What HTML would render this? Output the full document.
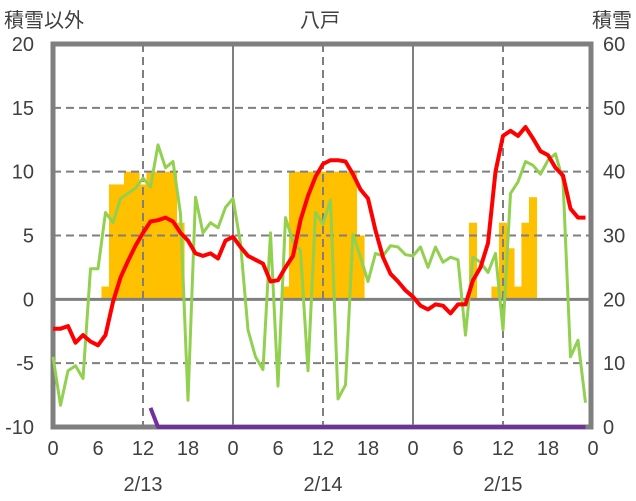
<!DOCTYPE html>
<html><head><meta charset="utf-8"><style>
body{margin:0;background:#fff;}
svg{display:block;font-family:"Liberation Sans","Noto Sans CJK JP",sans-serif;}
</style></head><body>
<svg id="c" width="636" height="501"></svg>
<script>
const hoursPerDay = 24;
const dayLabels = ["2/13","2/14","2/15"];
const hourTicks = [0,6,12,18];
const leftTicks = [20,15,10,5,0,-5,-10];
const rightTicks = [60,50,40,30,20,10,0];
const temperature = [-2.3,-2.3,-2.1,-3.4,-2.8,-3.3,-3.6,-2.8,-0.2,1.7,3,4.2,5.2,6.1,6.2,6.4,6.1,5.2,4.6,3.6,3.4,3.6,3.2,4.6,
 4.9,4.1,3.4,3.1,2.8,1.4,1.5,2.5,3.4,6.2,8.1,9.6,10.6,10.9,10.9,10.8,9.8,8.6,7.9,5.4,3.3,2.0,1.4,0.7,
 0.2,-0.5,-0.8,-0.4,-0.5,-1.1,-0.4,-0.4,1.5,2.5,4.4,10.0,12.8,13.2,12.8,13.5,12.6,11.6,11.3,10.3,9.7,7.1,6.4,6.4];
const windSpeed = [-4.5,-8.3,-5.6,-5.2,-6.2,2.4,2.4,6.8,6.0,7.9,8.3,8.7,9.5,8.8,12.1,10.3,10.8,6.7,-7.9,8.0,5.2,6.0,5.6,7.2,
 7.9,4.4,-2.4,-4.5,-5.5,5.2,-6.8,6.4,4.5,3.8,-5.6,6.8,5.9,7.8,-7.8,-6.7,5.1,3.3,1.4,3.6,3.4,4.2,4.1,3.5,
 3.4,4.1,2.5,4.1,2.9,3.3,3.1,-2.8,3.3,2.9,2.1,3.6,-2.4,8.3,9.2,10.8,10.5,9.8,10.9,11.4,9.3,-4.5,-3.2,-8.1];
const snowDepthBars = [0,0,0,0,0,0,0,1,9,9,10,10,9,10,10,10,10,6,0,0,0,0,0,0,
 0,0,0,0,0,0,0,1,10,10,10,10,10,10,10,10,10,5,0,0,0,0,0,0,
 0,0,0,0,0,0,0,0,6,0,0,1,6,4,1,6,8,0,0,0,0,0,0,0];
const snowfall = [null,null,null,null,null,null,null,null,null,null,null,null,null,-8.5];
for(let i=14;i<72;i++) snowfall.push(-10);

const X0=53,X1=593,Y0=44,Y1=427;
const xs=h=>X0+h*(X1-X0)/72;
const ys=v=>Y1-(v+10)*(Y1-Y0)/30;
const svg=document.getElementById('c');
const NS='http://www.w3.org/2000/svg';
function mk(t,a,p){const e=document.createElementNS(NS,t);for(const k in a)e.setAttribute(k,a[k]);(p||svg).appendChild(e);return e;}

// bars
snowDepthBars.forEach((v,i)=>{ if(v<=0)return;
 const r=mk('rect',{x:xs(i-0.5)-0.3,y:ys(v),width:xs(1)-xs(0)+0.6,height:ys(0)-ys(v),fill:'#ffc000'});
 
 
});
// grid
[15,10,5,-5].forEach(v=>{const l=mk('line',{x1:X0,x2:X1,y1:ys(v),y2:ys(v),stroke:'#7f7f7f','stroke-width':2,'stroke-dasharray':'8,5'});
 
 });
const z=mk('line',{x1:X0,x2:X1,y1:ys(0),y2:ys(0),stroke:'#7f7f7f','stroke-width':3});


for(let d=0;d<3;d++){
 const l=mk('line',{x1:xs(d*24+12),x2:xs(d*24+12),y1:Y0,y2:Y1,stroke:'#7f7f7f','stroke-width':2,'stroke-dasharray':'8,5'});
 
 
 if(d>0){const m=mk('line',{x1:xs(d*24),x2:xs(d*24),y1:Y0,y2:Y1,stroke:'#7f7f7f','stroke-width':2});
 
 }
}
const fr=mk('rect',{x:X0,y:Y0,width:X1-X0-2,height:Y1-Y0,fill:'none',stroke:'#7f7f7f','stroke-width':5});


function line(arr,col,w,name){
 let d='';arr.forEach((v,i)=>{if(v===null)return;d+=(d?'L':'M')+xs(i).toFixed(1)+','+ys(v).toFixed(1);});
 const p=mk('path',{d,fill:'none',stroke:col,'stroke-width':w,'stroke-linejoin':'round'});
 
 
}
line(windSpeed,'#92d050',3,'wind-line');
line(temperature,'#ff0000',4,'temperature-line');
line(snowfall,'#7030a0',4,'snowfall-line');

function txt(s,x,y,anchor,name){const t=mk('text',{x,y,'text-anchor':anchor,'font-size':20,fill:'#404040'});t.textContent=s;
 
 return t;}
leftTicks.forEach(v=>txt(String(v),34,ys(v)+7,'end','left-tick-label'));
rightTicks.forEach(v=>txt(String(v),603,ys((v-20)/2)+7,'start','right-tick-label'));
for(let d=0;d<3;d++){
 hourTicks.forEach(h=>txt(String(h),xs(d*24+h),455,'middle','x-tick-label'));
 txt(dayLabels[d],xs(d*24+12),491,'middle','date-label');
}
txt('0',xs(72),455,'middle','x-tick-label');
txt('積雪以外',4,27,'start','left-axis-title');
txt('積雪',632,27,'end','right-axis-title');
txt('八戸',320,27,'middle','chart-title');
</script>
</body></html>
